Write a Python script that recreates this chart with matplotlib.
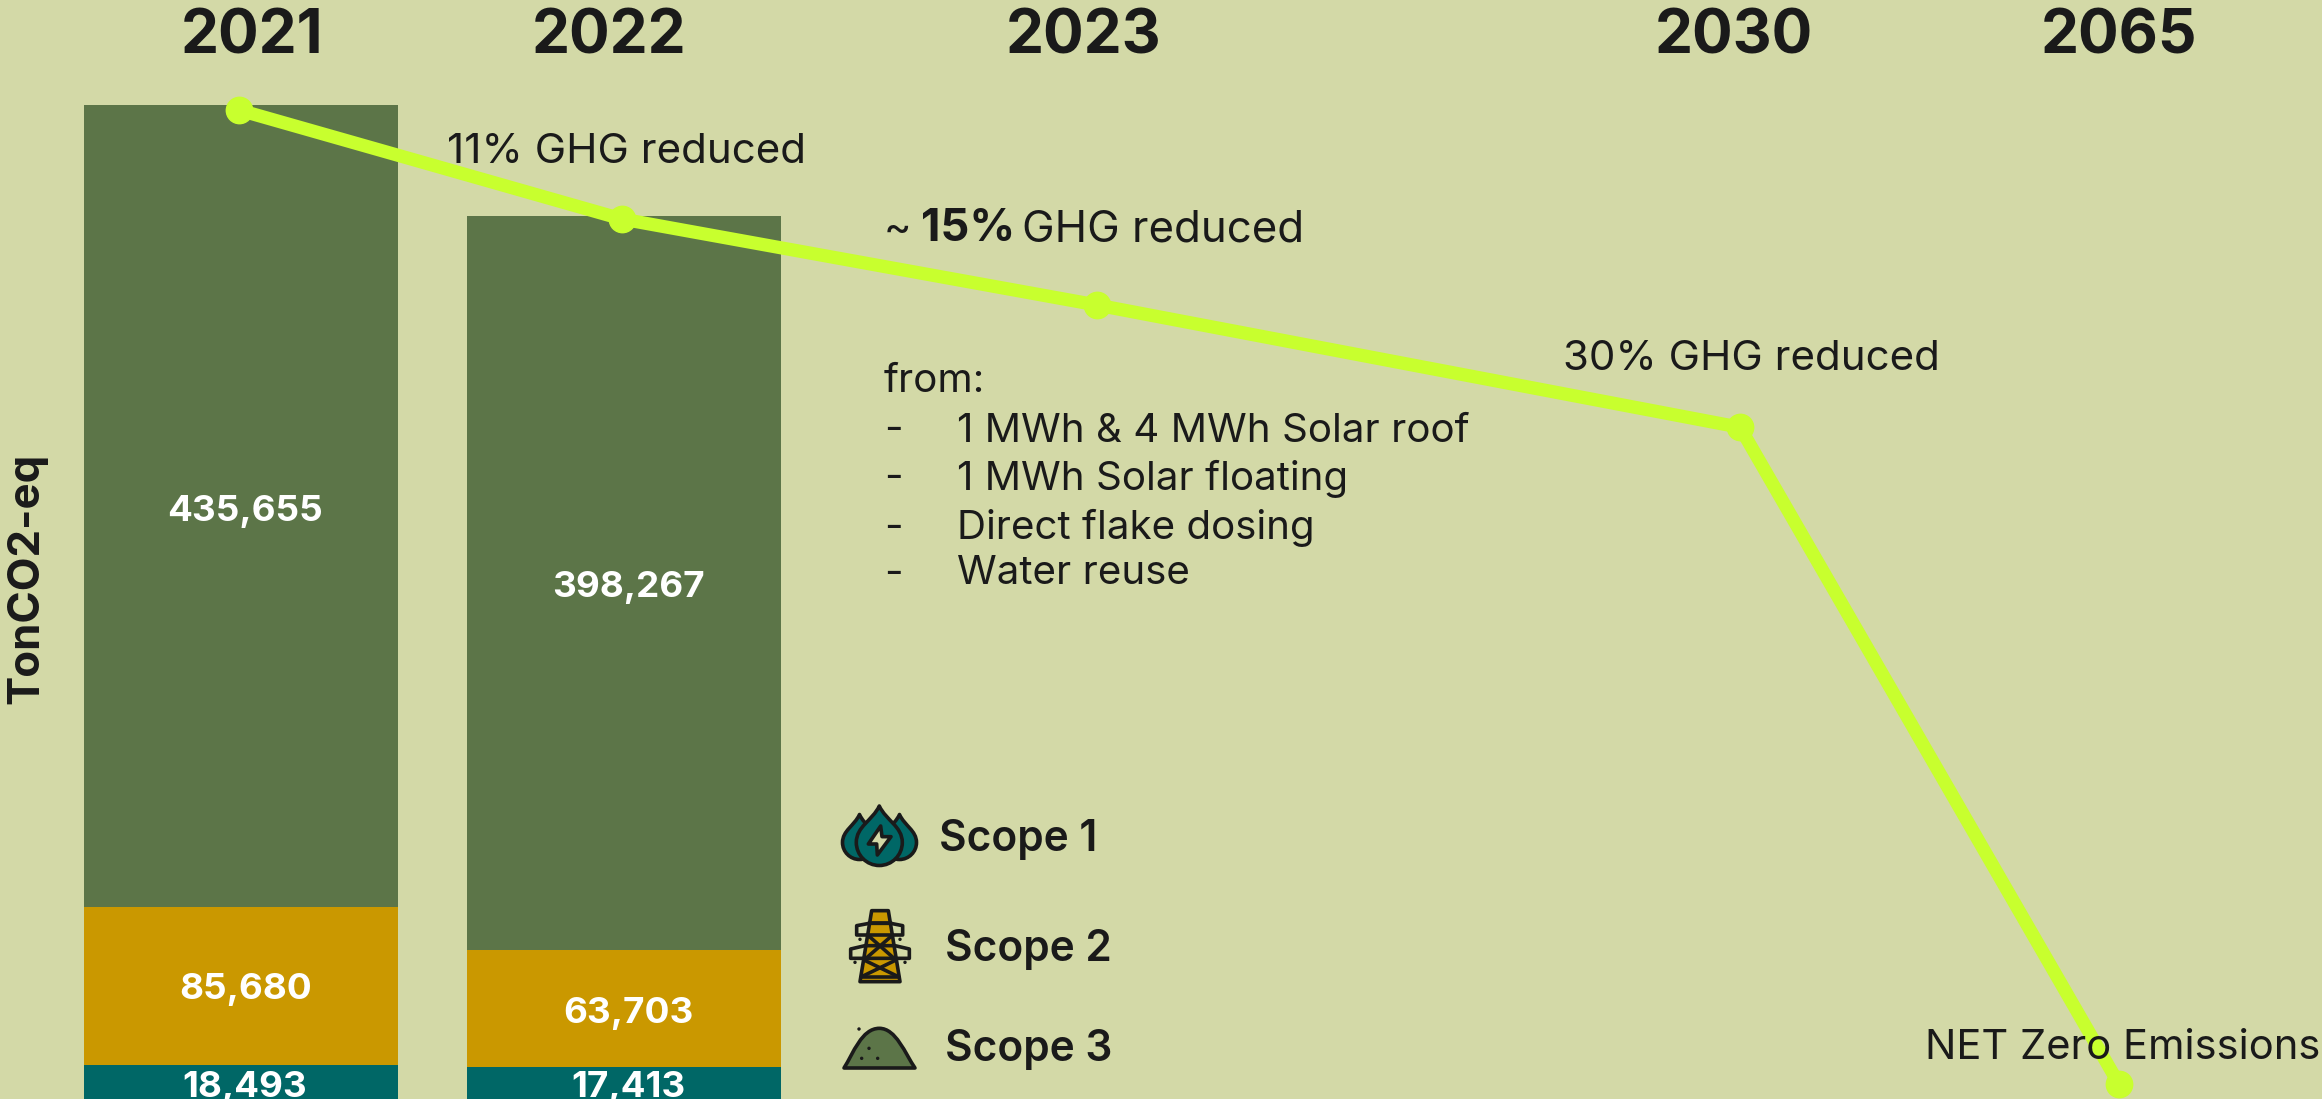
import matplotlib
matplotlib.use("Agg")
import matplotlib.pyplot as plt
from matplotlib.patches import PathPatch, Polygon, Circle
from matplotlib.path import Path

plt.rcParams['font.family'] = ['Inter', 'DejaVu Sans']

# Data
scope1 = [18493, 17413]
scope2 = [85680, 63703]
scope3 = [435655, 398267]
bar_labels = ["18,493", "17,413", "85,680", "63,703", "435,655", "398,267"]

years = ["2021", "2022", "2023", "2030", "2065"]
trend = [537100, 477900, 431200, 364800, 8100]

BG = '#D3D9A7'
OLIVE = '#5C7548'
GOLD = '#CA9800'
TEAL = '#006766'
BLACK = '#1A1A1A'
LIME = '#C8FF2E'

W, H = 2322, 1099
px_per_ton = 994 / 539828

fig = plt.figure(figsize=(W / 100, H / 100), dpi=100, facecolor=BG)
ax = fig.add_axes([0, 0, 1, 1])
ax.set_xlim(0, W)
ax.set_ylim(0, H / px_per_ton)
ax.axis('off')

# Stacked bars
bar_x = [241, 624]
bar_w = 314
bottom2 = scope1
bottom3 = [a + b for a, b in zip(scope1, scope2)]
ax.bar(bar_x, scope1, width=bar_w, color=TEAL)
ax.bar(bar_x, scope2, width=bar_w, bottom=bottom2, color=GOLD)
ax.bar(bar_x, scope3, width=bar_w, bottom=bottom3, color=OLIVE)

# Trend line
line_x = [239, 622, 1097, 1740, 2119]
ax.plot(line_x, trend, color=LIME, lw=9.5, marker='o', ms=19, solid_capstyle='round')

# Overlay in pixel coordinates for text and icons
ov = fig.add_axes([0, 0, 1, 1], zorder=5)
ov.set_xlim(0, W)
ov.set_ylim(H, 0)
ov.axis('off')
ov.patch.set_alpha(0)


def txt(x, y, s, size=30, weight='normal', color=BLACK, ha='left', **kw):
    ov.text(x, y, s, fontsize=size, fontweight=weight, color=color, ha=ha, va='center', **kw)


year_x = [252, 609, 1084, 1734, 2119]
for x, y in zip(year_x, years):
    txt(x, 37, y, size=43.5, weight='bold', ha='center')

label_pos = [(245, 1087), (628, 1088), (246, 990), (628, 1013), (245, 512), (628, 588)]
for (x, y), s in zip(label_pos, bar_labels):
    txt(x, y, s, size=26.5, weight='bold', color='white', ha='center')

txt(27, 578, "TonCO2-eq", size=31.5, weight='bold', ha='center', rotation=90)
txt(447, 152, "11% GHG reduced", size=30.3)
txt(884, 230, "~")
txt(921, 229, "15%", size=32.5, weight='bold')
txt(1022, 230, "GHG reduced", size=31.5)
txt(1563, 359, "30% GHG reduced", size=30.3)
txt(884, 382, "from:", size=29)
items = ["1 MWh & 4 MWh Solar roof", "1 MWh Solar floating", "Direct flake dosing", "Water reuse"]
item_y = [431, 479, 528, 574]
for y, s in zip(item_y, items):
    txt(884, y, "-", size=29)
    txt(957, y, s, size=29)
txt(1925, 1048, "NET Zero Emissions")

txt(939, 839, "Scope 1", size=30.5, weight='semibold')
txt(945, 949, "Scope 2", size=30.5, weight='semibold')
txt(945, 1050, "Scope 3", size=30.5, weight='semibold')


def z(x, y):
    return 820 + x / 3, 780 + y / 3


def drop(cx, tip, r, cy, fc):
    k = 0.55 * r
    verts = [(cx, tip), (cx + 0.3 * r, tip + 0.4 * (cy - tip)), (cx + r, cy - 0.7 * r), (cx + r, cy),
             (cx + r, cy + k), (cx + k, cy + r), (cx, cy + r),
             (cx - k, cy + r), (cx - r, cy + k), (cx - r, cy),
             (cx - r, cy - 0.7 * r), (cx - 0.3 * r, tip + 0.4 * (cy - tip)), (cx, tip), (cx, tip)]
    codes = [Path.MOVETO] + [Path.CURVE4] * 12 + [Path.CLOSEPOLY]
    ov.add_patch(PathPatch(Path(verts, codes), fc=fc, ec=BLACK, lw=2.6, joinstyle='round'))


def poly(points, fc='none', lw=2.6):
    ov.add_patch(Polygon([z(*p) for p in points], closed=True, fc=fc, ec=BLACK, lw=lw, joinstyle='round'))


def seg(a, b, lw=2.6):
    ov.plot(*zip(z(*a), z(*b)), color=BLACK, lw=lw, solid_capstyle='round')


def dot(x, y, r=1.7):
    ov.add_patch(Circle(z(x, y), r, fc=BLACK, ec='none'))


# Scope 1
drop(859.5, 814.5, 17, 842.5, TEAL)
drop(899.5, 814.5, 17, 842.5, TEAL)
drop(879.3, 806, 23, 842.5, TEAL)
poly([(182, 138), (145, 192), (170, 192), (172, 225), (213, 170), (186, 170)], fc=BG)

# Scope 2
poly([(155, 392), (205, 392), (240, 605), (120, 605)], fc=GOLD)
poly([(148, 430), (110, 437), (110, 465), (248, 465), (248, 437), (212, 430)])
poly([(135, 497), (92, 507), (92, 535), (268, 535), (268, 507), (225, 497)])
seg((148, 430), (212, 430))
seg((143, 465), (222, 535))
seg((218, 465), (138, 535))
seg((132, 540), (235, 590))
seg((228, 540), (125, 590))
seg((122, 592), (238, 592))
for x, y in [(120, 478), (240, 478), (105, 547), (255, 547)]:
    dot(x, y)

# Scope 3
verts = [z(72, 864), z(100, 820), z(125, 745), z(178, 745), z(228, 745), z(255, 820), z(285, 864), z(72, 864)]
codes = [Path.MOVETO] + [Path.CURVE4] * 6 + [Path.CLOSEPOLY]
ov.add_patch(PathPatch(Path(verts, codes), fc=OLIVE, ec=BLACK, lw=2.6, joinstyle='round'))
for x, y in [(147, 805), (125, 835), (173, 835), (117, 747)]:
    dot(x, y)

fig.savefig('out.png', dpi=100, facecolor=BG)
